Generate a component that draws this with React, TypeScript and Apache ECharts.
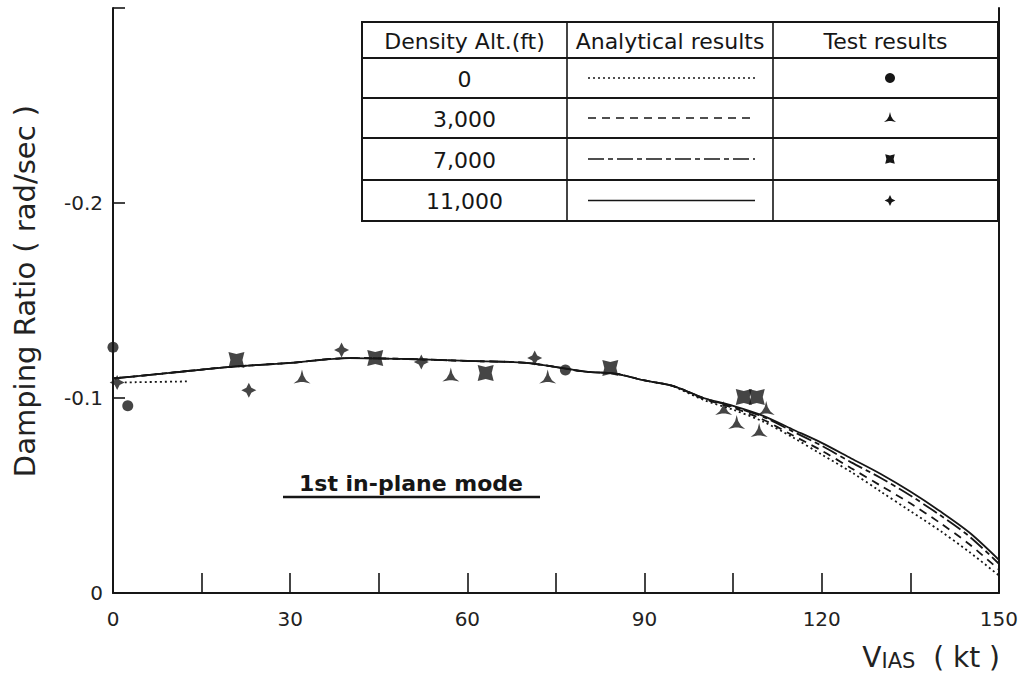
import React, { useEffect, useRef } from "react";
import * as echarts from "echarts";

// ---------- data ----------
const curveX = [0, 5, 10, 20, 30, 40, 50, 60, 70, 80, 85, 90, 95, 100, 105, 110, 115, 120, 125, 130, 135, 140, 145, 150];
const alt11000Curve = [-0.110, -0.1115, -0.113, -0.116, -0.118, -0.1205, -0.120, -0.119, -0.118, -0.1135, -0.1125, -0.109, -0.106, -0.100, -0.096, -0.091, -0.084, -0.077, -0.069, -0.061, -0.052, -0.042, -0.031, -0.017];
const alt7000Curve = [-0.110, -0.1115, -0.113, -0.116, -0.118, -0.1205, -0.120, -0.119, -0.118, -0.1135, -0.1125, -0.109, -0.106, -0.100, -0.0955, -0.0905, -0.083, -0.0755, -0.067, -0.059, -0.050, -0.040, -0.029, -0.015];
const alt3000Curve = [-0.110, -0.1115, -0.113, -0.116, -0.118, -0.1205, -0.120, -0.119, -0.118, -0.1135, -0.1125, -0.109, -0.106, -0.0995, -0.095, -0.089, -0.081, -0.073, -0.064, -0.055, -0.046, -0.036, -0.025, -0.012];
const alt0HeadX = [2, 12.5];
const alt0HeadY = [-0.108, -0.1085];
const alt0TailX = [95, 100, 105, 110, 115, 120, 125, 130, 135, 140, 145, 150];
const alt0TailY = [-0.106, -0.099, -0.094, -0.088, -0.080, -0.071, -0.062, -0.052, -0.042, -0.032, -0.021, -0.009];

const test0X = [0, 2.5, 76.6];
const test0Y = [-0.126, -0.096, -0.1144];
const test3000X = [32, 57.2, 73.6, 103.4, 105.6, 109.4, 110.6];
const test3000Y = [-0.111, -0.112, -0.111, -0.0949, -0.0877, -0.0836, -0.0949];
const test7000X = [20.9, 44.4, 63.1, 84.2, 106.8, 109];
const test7000Y = [-0.1195, -0.1205, -0.1128, -0.1154, -0.1005, -0.1005];
const test11000X = [0.7, 23, 38.7, 52.2, 71.4];
const test11000Y = [-0.108, -0.104, -0.1246, -0.1185, -0.1205];

const tableHeaders = ["Density Alt.(ft)", "Analytical results", "Test results"];
const altitudeLabels = ["0", "3,000", "7,000", "11,000"];
const xTickLabels = [0, 30, 60, 90, 120, 150];

// ---------- styling helpers ----------
const INK = "#161616";
const FONT = "DejaVu Sans";

const TRI_PTS = [[0, -10], [1.8, -3], [5, 2.5], [10, 6.5], [2, 4.8], [-2, 4.8], [-10, 6.5], [-5, 2.5], [-1.8, -3]];
const SQ_PTS = [[-8, -8], [0, -6], [8, -8], [6, 0], [8, 8], [0, 6], [-8, 8], [-6, 0]];
const STAR_PTS = [[0, -9], [3, -3], [9, 0], [3, 3], [0, 9], [-3, 3], [-9, 0], [-3, -3]];
const toPath = (pts: number[][]) => "path://M" + pts.map((p) => p[0] + "," + p[1]).join(" L") + " Z";

const zip = (xs: number[], ys: number[]) => xs.map((x, i) => [x, ys[i]]);

const lineStyles = [
  { type: [2, 3] as any, width: 1.8 },
  { type: [8, 6] as any, width: 1.8 },
  { type: [16, 4, 5, 4] as any, width: 1.8 },
  { type: "solid" as any, width: 1.8 },
];

function buildTable() {
  const L = 362, C1 = 567, C2 = 773, R = 998;
  const rows = [22, 58, 98, 138, 180, 221];
  const els: any[] = [];
  els.push({ type: "rect", shape: { x: L, y: rows[0], width: R - L, height: rows[5] - rows[0] }, style: { fill: "#fff", stroke: INK, lineWidth: 2 }, z: 10 });
  for (let i = 1; i < 5; i++) {
    els.push({ type: "line", shape: { x1: L, y1: rows[i], x2: R, y2: rows[i] }, style: { stroke: INK, lineWidth: 2 }, z: 11 });
  }
  [C1, C2].forEach((c) => els.push({ type: "line", shape: { x1: c, y1: rows[0], x2: c, y2: rows[5] }, style: { stroke: INK, lineWidth: 1.6 }, z: 11 }));
  const cx = [(L + C1) / 2, (C1 + C2) / 2, (C2 + R) / 2];
  tableHeaders.forEach((h, i) => {
    els.push({ type: "text", x: cx[i], y: (rows[0] + rows[1]) / 2 + 1, style: { text: h, fill: INK, font: `22px '${FONT}'`, align: "center", verticalAlign: "middle" }, z: 12 });
  });
  const shapes = [null, TRI_PTS, SQ_PTS, STAR_PTS];
  altitudeLabels.forEach((a, i) => {
    const yc = (rows[i + 1] + rows[i + 2]) / 2;
    els.push({ type: "text", x: cx[0], y: yc + 1, style: { text: a, fill: INK, font: `22px '${FONT}'`, align: "center", verticalAlign: "middle" }, z: 12 });
    els.push({ type: "line", shape: { x1: 588, y1: yc, x2: 755, y2: yc }, style: { stroke: INK, lineWidth: 1.6, lineDash: lineStyles[i].type === "solid" ? null : lineStyles[i].type }, z: 12 });
    const sx = 890;
    if (i === 0) {
      els.push({ type: "circle", shape: { cx: sx, cy: yc, r: 5 }, style: { fill: INK }, z: 12 });
    } else {
      const pts = (shapes[i] as number[][]).map((p) => [sx + p[0] * 0.6, yc + p[1] * 0.6]);
      els.push({ type: "polygon", shape: { points: pts }, style: { fill: INK }, z: 12 });
    }
  });
  return els;
}

export default function App() {
  const ref = useRef<HTMLDivElement>(null);
  useEffect(() => {
    const chart = echarts.init(ref.current!, null, { renderer: "svg" });
    const curveSeries = (name: string, data: number[][], idx: number) => ({
      type: "line",
      name,
      data,
      smooth: 0.3,
      showSymbol: false,
      symbol: "none",
      lineStyle: { color: INK, width: lineStyles[idx].width, type: lineStyles[idx].type },
      z: 3,
    });
    const scatterSeries = (name: string, data: number[][], symbol: string, size: number) => ({
      type: "scatter",
      name,
      data,
      symbol,
      symbolSize: size,
      symbolKeepAspect: true,
      itemStyle: { color: INK },
      z: 5,
    });
    chart.setOption({
      animation: false,
      backgroundColor: "#fff",
      textStyle: { fontFamily: FONT },
      grid: { left: 113, right: 18, top: 8, bottom: 86, containLabel: false },
      xAxis: {
        type: "value",
        min: 0,
        max: 150,
        interval: 15,
        axisLine: { show: true, lineStyle: { color: INK, width: 2 } },
        axisTick: { show: true, inside: true, length: 20, lineStyle: { color: INK, width: 1.6 } },
        axisLabel: {
          formatter: (v: number) => (xTickLabels.includes(v) ? String(v) : ""),
          fontSize: 20,
          color: "#222",
          margin: 16,
          fontFamily: FONT,
        },
        splitLine: { show: false },
      },
      yAxis: [
        {
          type: "value",
          inverse: true,
          min: -0.3,
          max: 0,
          interval: 0.1,
          axisLine: { show: true, lineStyle: { color: INK, width: 2 } },
          axisTick: { show: true, inside: true, length: 12, lineStyle: { color: INK, width: 1.6 } },
          axisLabel: {
            formatter: (v: number) => (v < -0.25 ? "" : v === 0 ? "0" : v.toFixed(1)),
            fontSize: 20,
            color: "#222",
            margin: 10,
            fontFamily: FONT,
          },
          splitLine: { show: false },
        },
        {
          type: "value",
          position: "right",
          inverse: true,
          min: -0.3,
          max: 0,
          interval: 0.1,
          axisLine: { show: true, lineStyle: { color: INK, width: 2 } },
          axisTick: { show: false },
          axisLabel: { show: false },
          splitLine: { show: false },
        },
      ],
      series: [
        curveSeries("0 ft", zip(alt0HeadX, alt0HeadY), 0),
        curveSeries("0 ft tail", zip(alt0TailX, alt0TailY), 0),
        curveSeries("3,000 ft", zip(curveX, alt3000Curve), 1),
        curveSeries("7,000 ft", zip(curveX, alt7000Curve), 2),
        curveSeries("11,000 ft", zip(curveX, alt11000Curve), 3),
        scatterSeries("0 ft test", zip(test0X, test0Y), "circle", 11),
        scatterSeries("3,000 ft test", zip(test3000X, test3000Y), toPath(TRI_PTS), 17),
        scatterSeries("7,000 ft test", zip(test7000X, test7000Y), toPath(SQ_PTS), 16),
        scatterSeries("11,000 ft test", zip(test11000X, test11000Y), toPath(STAR_PTS), 15),
      ],
      graphic: [
        ...buildTable(),
        {
          type: "text",
          x: 25,
          y: 291,
          rotation: Math.PI / 2,
          style: { text: "Damping Ratio ( rad/sec )", fill: "#222", font: `29px '${FONT}'`, align: "center", verticalAlign: "middle" },
        },
        {
          type: "text",
          x: 411,
          y: 483,
          style: { text: "1st in-plane mode", fill: INK, font: `bold 22px '${FONT}'`, align: "center", verticalAlign: "middle" },
        },
        { type: "line", shape: { x1: 283, y1: 497, x2: 540, y2: 497 }, style: { stroke: INK, lineWidth: 2.5 } },
        {
          type: "text",
          x: 1000,
          y: 657,
          style: {
            text: "{b|V}{s|IAS}{b|  ( kt )}",
            align: "right",
            verticalAlign: "middle",
            rich: {
              b: { fontSize: 28, fontFamily: FONT, fill: "#222", color: "#222" },
              s: { fontSize: 21, fontFamily: FONT, fill: "#222", color: "#222", verticalAlign: "bottom" },
            },
          },
        },
      ],
    });
    return () => chart.dispose();
  }, []);
  return <div ref={ref} style={{ position: "fixed", left: 0, top: 0, width: 1021, height: 679, background: "#fff" }} />;
}
